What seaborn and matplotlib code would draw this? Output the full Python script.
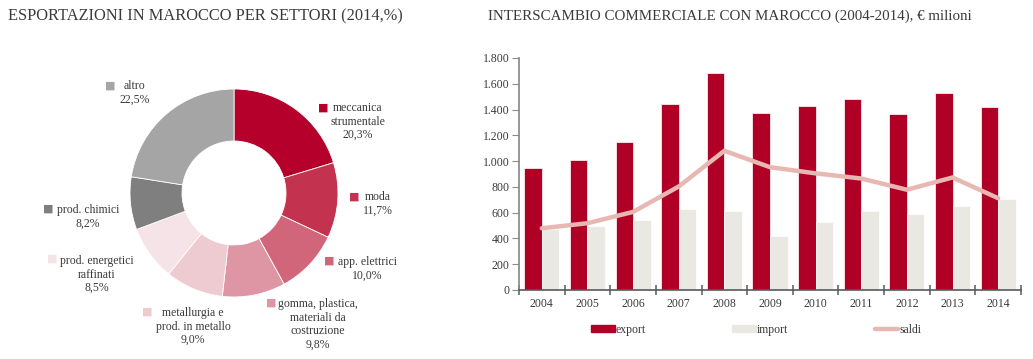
import numpy as np
import pandas as pd
import matplotlib
matplotlib.use("Agg")
import matplotlib.pyplot as plt
from matplotlib.patches import Patch
from matplotlib.lines import Line2D
from matplotlib.ticker import FuncFormatter, FixedLocator
import seaborn as sns

# %% data
settori = ["meccanica\nstrumentale", "moda", "app. elettrici",
           "gomma, plastica,\nmateriali da\ncostruzione",
           "metallurgia e\nprod. in metallo", "prod. energetici\nraffinati",
           "prod. chimici", "altro"]
quote = [20.3, 11.7, 10.0, 9.8, 9.0, 8.5, 8.2, 22.5]
colori_settori = ["#B5002B", "#C3334F", "#D1667A", "#DE96A4",
                  "#EDCBD1", "#F6E3E7", "#7F7F7F", "#A5A5A5"]

anni = ["2004", "2005", "2006", "2007", "2008", "2009", "2010", "2011", "2012", "2013", "2014"]
export = [945, 1012, 1150, 1443, 1686, 1373, 1430, 1479, 1367, 1528, 1417]
import_ = [471, 497, 544, 627, 611, 420, 528, 616, 591, 655, 705]
saldi = [479, 518, 606, 803, 1080, 953, 905, 865, 778, 873, 712]

# %% style
sns.set_theme(style="white")
plt.rcParams["font.family"] = ["Liberation Serif", "DejaVu Sans"]
testo = "#3A3A3A"

W, H = 1033, 359
fig = plt.figure(figsize=(W / 100, H / 100), dpi=100)

fig.text(8 / W, 1 - 16 / H, "ESPORTAZIONI IN MAROCCO PER SETTORI (2014,%)",
         fontsize=11.8, color=testo, va="center", ha="left")
fig.text(488 / W, 1 - 16 / H, "INTERSCAMBIO COMMERCIALE CON MAROCCO (2004-2014), € milioni",
         fontsize=10.8, color=testo, va="center", ha="left")

# %% donut
cx, cy, r = 234, 193, 104
ax1 = fig.add_axes([(cx - r) / W, (H - cy - r) / H, 2 * r / W, 2 * r / H])
ax1.pie(quote, colors=colori_settori, startangle=90, counterclock=False,
        wedgeprops=dict(width=0.5, edgecolor="white", linewidth=0.6))
ax1.set_xlim(-1, 1)
ax1.set_ylim(-1, 1)
ax1.set_aspect("equal")
ax1.axis("off")

# label placement in pixels: (text center x, first line y, square x, square y)
pos_etichette = [(358, 108, 323, 108), (378, 197, 354, 197), (367, 262, 329, 261),
                 (318, 304, 271, 303), (193, 313, 147, 312), (97, 261, 52, 259),
                 (88, 210, 48, 209), (135, 86, 110, 86)]
passo = 13.6
for nome, q, col, (tx, ty, sx, sy) in zip(settori, quote, colori_settori, pos_etichette):
    righe = nome.split("\n") + [f"{q:.1f}%".replace(".", ",")]
    yc = ty + passo * (len(righe) - 1) / 2
    ax1.text((tx - cx) / r, (cy - yc) / r, "\n".join(righe), ha="center", va="center",
             fontsize=8.5, color=testo, linespacing=1.15)
    ax1.text((sx - cx) / r, (cy - sy) / r, "■", ha="center", va="center",
             fontsize=8, color=col, family=["DejaVu Sans"])

# %% bars
df = pd.DataFrame({"anno": anni * 2,
                   "valore": export + import_,
                   "serie": ["export"] * len(anni) + ["import"] * len(anni)})
x0, x1, ytop, ybot = 519, 1021, 58, 290
ax2 = fig.add_axes([x0 / W, (H - ybot) / H, (x1 - x0) / W, (ybot - ytop) / H])
sns.barplot(data=df, x="anno", y="valore", hue="serie", palette=["#B10026", "#E9E8E3"],
            width=0.77, saturation=1, gap=0, ax=ax2, legend=False,
            edgecolor="white", linewidth=0.5)
sns.lineplot(x=np.arange(len(anni)), y=saldi, color="#E8B7B2", linewidth=3.2, ax=ax2)

ax2.set_xlim(-0.5, len(anni) - 0.5)
ax2.set_ylim(0, 1800)
ax2.set_yticks(np.arange(0, 1801, 200))
ax2.yaxis.set_major_formatter(FuncFormatter(lambda v, p: f"{v:,.0f}".replace(",", ".")))
ax2.set_xlabel("")
ax2.set_ylabel("")
sns.despine(ax=ax2)
ax2.spines["left"].set_color("#8A8A8A")
ax2.spines["bottom"].set_color("#595959")
ax2.spines["bottom"].set_linewidth(1.2)
ax2.tick_params(axis="y", left=True, length=5, width=0.8, color="#8A8A8A",
                labelsize=8.5, labelcolor=testo, pad=2)
ax2.tick_params(axis="x", which="major", length=0, labelsize=8.5, labelcolor=testo, pad=6)
ax2.xaxis.set_minor_locator(FixedLocator(np.arange(-0.5, len(anni), 1)))
ax2.tick_params(axis="x", which="minor", bottom=True, length=7, width=1.1,
                direction="inout", color="#595959")

handles = [Patch(color="#B10026", label="export"),
           Patch(color="#E9E8E3", label="import"),
           Line2D([], [], color="#E8B7B2", linewidth=3.2, label="saldi")]
fig.legend(handles=handles, loc="center left", bbox_to_anchor=(591 / W, 1 - 330 / H),
           ncol=3, frameon=False, fontsize=8.5, handlelength=2.0, handleheight=0.5,
           handletextpad=0.1, columnspacing=7.3, borderpad=0, borderaxespad=0,
           labelcolor=testo)

fig.savefig("out.png", dpi=100)
